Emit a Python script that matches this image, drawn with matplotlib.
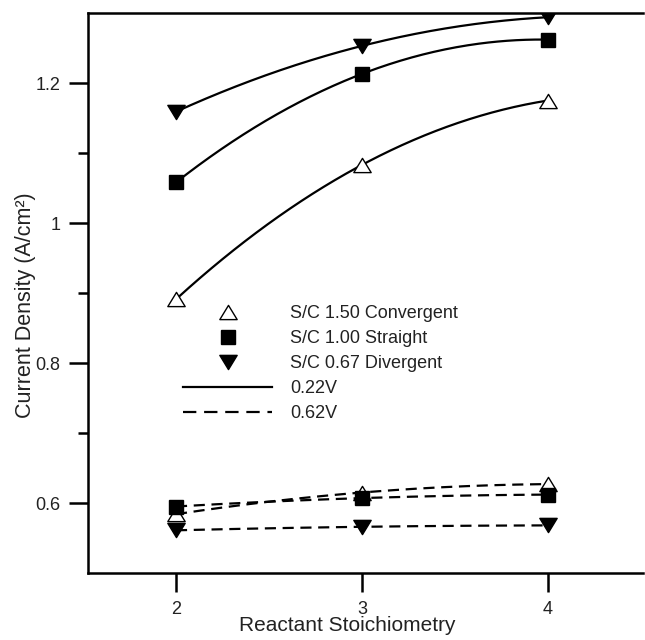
import numpy as np
import matplotlib
matplotlib.use("Agg")
import matplotlib.pyplot as plt
from matplotlib.lines import Line2D
from matplotlib.path import Path

plt.rcParams['font.family'] = ['Liberation Sans', 'DejaVu Sans']

# Data
stoich = [2, 3, 4]
conv_022 = [0.891, 1.083, 1.175]
straight_022 = [1.058, 1.213, 1.262]
div_022 = [1.159, 1.253, 1.294]
conv_062 = [0.584, 0.615, 0.627]
straight_062 = [0.595, 0.607, 0.612]
div_062 = [0.561, 0.566, 0.568]

series_labels = ["S/C 1.50 Convergent", "S/C 1.00 Straight", "S/C 0.67 Divergent"]
voltage_labels = ["0.22V", "0.62V"]
yticks = [0.6, 0.8, 1.0, 1.2]
ytick_labels = ["0.6", "0.8", "1", "1.2"]
xticks = [2, 3, 4]

tri_up = Path([(-1, -0.82), (1, -0.82), (0, 0.82), (-1, -0.82)],
              [Path.MOVETO, Path.LINETO, Path.LINETO, Path.CLOSEPOLY])
tri_dn = Path([(-1, 0.82), (1, 0.82), (0, -0.82), (-1, 0.82)],
              [Path.MOVETO, Path.LINETO, Path.LINETO, Path.CLOSEPOLY])

fig = plt.figure(figsize=(6.45, 6.4), dpi=100)
ax = fig.add_axes([88/645, 1 - 573/640, (643-88)/645, (573-13)/640])

styles = [
    dict(marker=tri_up, mfc='white', mec='black', ms=12.5, mew=1.0),
    dict(marker='s', mfc='black', mec='black', ms=10),
    dict(marker=tri_dn, mfc='black', mec='black', ms=12.5),
]

def smooth(xs, ys):
    c = np.polyfit(xs, ys, 2)
    xx = np.linspace(min(xs), max(xs), 200)
    return xx, np.polyval(c, xx)

for ys, st in zip([conv_022, straight_022, div_022], styles):
    xx, yy = smooth(stoich, ys)
    ax.plot(xx, yy, color='black', lw=1.6, zorder=2)
    ax.plot(stoich, ys, ls='none', zorder=3, **st)

for ys, st in zip([conv_062, straight_062, div_062], styles):
    xx, yy = smooth(stoich, ys)
    ax.plot(xx, yy, color='black', lw=1.6, dashes=(5, 3), zorder=2)
    ax.plot(stoich, ys, ls='none', zorder=3, **st)

ax.set_xlim(1.527, 4.511)
ax.set_ylim(0.5, 1.3)
ax.set_xticks(xticks)
ax.set_xticklabels([str(v) for v in xticks])
ax.set_yticks(yticks)
ax.set_yticklabels(ytick_labels)
ax.set_yticks([0.7, 0.9, 1.1], minor=True)

for s in ['left', 'top', 'bottom']:
    ax.spines[s].set_linewidth(1.8)
ax.spines['right'].set_visible(False)

ax.tick_params(axis='both', which='major', direction='out', length=14, width=1.8,
               labelsize=13, labelcolor='#222222', pad=6)
ax.tick_params(axis='y', which='minor', direction='out', length=7, width=1.8)

ax.set_xlabel("Reactant Stoichiometry", fontsize=15, color='#222222')
ax.xaxis.set_label_coords(0.467, -0.077)
ax.set_ylabel("Current Density (A/cm²)", fontsize=15.5, color='#222222')
ax.yaxis.set_label_coords(-0.094, 0.479)

handles = [Line2D([], [], ls='none', **st) for st in styles]
handles += [Line2D([], [], color='black', lw=1.6),
            Line2D([], [], color='black', lw=1.6, dashes=(6, 3.5))]
leg = ax.legend(handles, series_labels + voltage_labels, loc='upper left',
                bbox_to_anchor=(183/645, 1 - 305/640), bbox_transform=fig.transFigure,
                frameon=False, fontsize=13, handlelength=4.95, handletextpad=1.0,
                labelspacing=0.45, borderpad=0, borderaxespad=0, numpoints=1)
for t in leg.get_texts():
    t.set_color('#222222')

fig.savefig("out.png", dpi=100)
